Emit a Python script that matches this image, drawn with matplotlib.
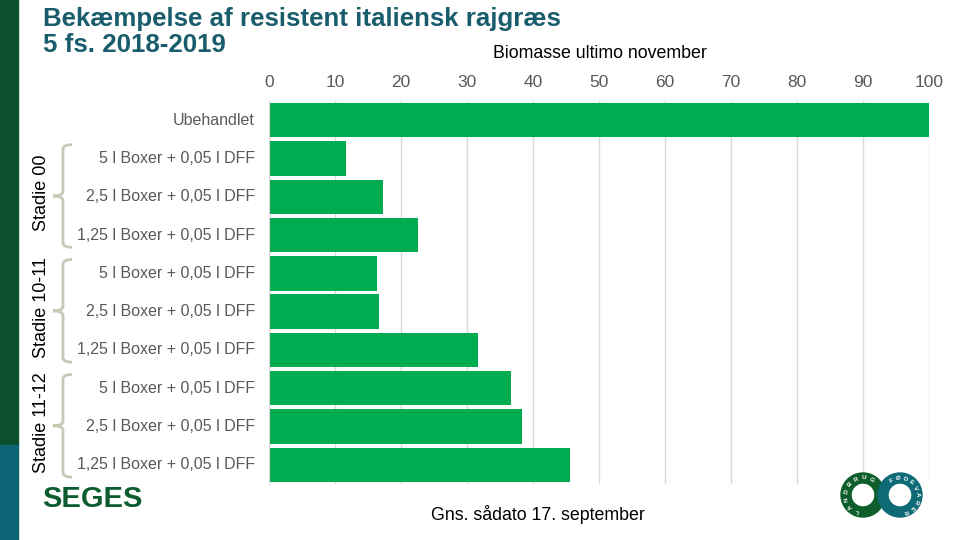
import matplotlib.pyplot as plt
from matplotlib.patches import Rectangle, Wedge, PathPatch
from matplotlib.path import Path
from matplotlib.transforms import blended_transform_factory, IdentityTransform
import numpy as np

# Data
categories = ['Ubehandlet',
              '5 l Boxer + 0,05 l DFF', '2,5 l Boxer + 0,05 l DFF', '1,25 l Boxer + 0,05 l DFF',
              '5 l Boxer + 0,05 l DFF', '2,5 l Boxer + 0,05 l DFF', '1,25 l Boxer + 0,05 l DFF',
              '5 l Boxer + 0,05 l DFF', '2,5 l Boxer + 0,05 l DFF', '1,25 l Boxer + 0,05 l DFF']
biomasse = [100, 11.6, 17.2, 22.6, 16.4, 16.7, 31.7, 36.7, 38.3, 45.6]
groups = ['Stadie 00', 'Stadie 10-11', 'Stadie 11-12']
group_rows = [(1, 3), (4, 6), (7, 9)]
xticks = list(range(0, 101, 10))

W, H = 960, 540
plt.rcParams['font.family'] = ['Liberation Sans', 'DejaVu Sans']
fig = plt.figure(figsize=(9.6, 5.4), dpi=100)


def fx(px):
    return px / W


def fy(py):
    return 1 - py / H


# left stripe
fig.patches.append(Rectangle((0, fy(445)), fx(18), 1 - fy(445), transform=fig.transFigure,
                             color='#0b5130', zorder=0))
fig.patches.append(Rectangle((0, 0), fx(18), fy(445), transform=fig.transFigure,
                             color='#0e6475', zorder=0))

# title
title_col = '#195d6c'
fig.text(fx(43), fy(26), 'Bekæmpelse af resistent italiensk rajgræs', fontsize=18.6,
         fontweight='bold', color=title_col, va='baseline')
fig.text(fx(43), fy(52), '5 fs. 2018-2019', fontsize=18.6,
         fontweight='bold', color=title_col, va='baseline')
fig.text(fx(600), fy(53), 'Biomasse ultimo november', fontsize=12.8, ha='center', va='center')
fig.text(fx(538), fy(515), 'Gns. sådato 17. september', fontsize=12.8, ha='center', va='center')

# bars
ax = fig.add_axes([fx(269), fy(484), fx(929) - fx(269), fy(101) - fy(484)])
y = np.arange(len(categories))
ax.barh(y, biomasse, height=0.9, color='#00ac4f', zorder=2)
ax.set_xlim(0, 100)
ax.set_ylim(len(categories) - 0.5, -0.5)
ax.set_xticks(xticks)
ax.xaxis.tick_top()
ax.tick_params(axis='x', length=0, pad=8, labelsize=12.5, labelcolor='#595959')
ax.set_yticks([])
ax.grid(axis='x', color='#d9d9d9', linewidth=1, zorder=0)
for s in ['top', 'right', 'bottom']:
    ax.spines[s].set_visible(False)
ax.spines['left'].set_color('#d9d9d9')

# category labels
tr = blended_transform_factory(fig.transFigure, ax.transData)
for i, c in enumerate(categories):
    fig.text(fx(255), i, c, transform=tr, ha='right', va='center', fontsize=11.5,
             color='#595959')


# group braces and labels
def brace(r0, r1):
    xr, xv, xt = fx(72), fx(63), fx(53)
    a, b = r0 - 0.36, r1 + 0.32
    m = (a + b) / 2
    c = 0.12
    verts = [(xr, a), (xv, a), (xv, a + c),
             (xv, m - c), (xv, m), (xt, m),
             (xv, m), (xv, m + c),
             (xv, b - c), (xv, b), (xr, b)]
    codes = [Path.MOVETO, Path.CURVE3, Path.CURVE3,
             Path.LINETO, Path.CURVE3, Path.CURVE3,
             Path.CURVE3, Path.CURVE3,
             Path.LINETO, Path.CURVE3, Path.CURVE3]
    fig.patches.append(PathPatch(Path(verts, codes), transform=tr, fill=False,
                                 edgecolor='#c8c8b6', linewidth=2.0))


for g, (r0, r1) in zip(groups, group_rows):
    brace(r0, r1)
    fig.text(fx(41), (r0 + r1) / 2 - 0.1, g, transform=tr, rotation=90, ha='center',
             va='center', fontsize=13)

# SEGES logo
fig.text(fx(42), fy(507), 'SEGES', fontsize=21, fontweight='heavy', color='#0b5c2e',
         va='baseline')

# Landbrug & Fødevarer logo rings (pixel coordinates)
for cx, col in [(863, '#0d5e2a'), (900, '#0f6a78')]:
    fig.patches.append(Wedge((cx, H - 495), 22, 0, 360, width=10,
                             transform=IdentityTransform(), color=col))


def ring_text(cx, txt, start, end):
    angs = np.linspace(start, end, len(txt))
    for ch, a in zip(txt, angs):
        xx = cx + 17 * np.cos(np.radians(a))
        yy = (H - 495) + 17 * np.sin(np.radians(a))
        fig.text(xx, yy, ch, transform=IdentityTransform(), fontsize=4.5, color='white',
                 ha='center', va='center', rotation=a - 90, fontweight='bold')


ring_text(863, 'LANDBRUG', 250, 60)
ring_text(900, 'FØDEVARER', 120, -70)

fig.savefig('out.png', dpi=100)
